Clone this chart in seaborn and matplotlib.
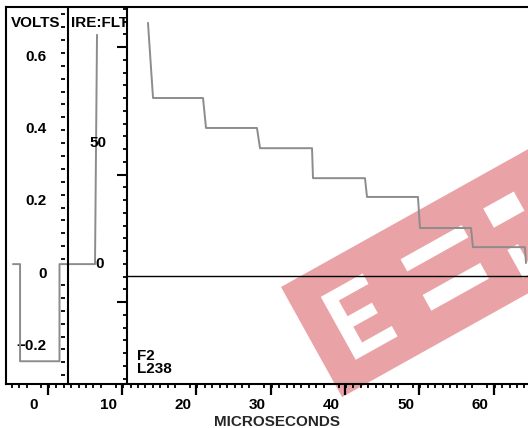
import numpy as np
import pandas as pd
import seaborn as sns
import matplotlib.pyplot as plt
from matplotlib.ticker import MultipleLocator
from matplotlib.path import Path
from matplotlib.patches import PathPatch

# trace (microseconds, volts)
sync_us = [-2.83, -1.88, -1.88, 3.43, 3.43, 8.21, 8.48]
sync_v = [0.022, 0.022, -0.247, -0.247, 0.022, 0.022, 0.657]
stair_us = [15.34, 16.02, 22.75, 23.15, 30.01, 30.42, 37.42, 37.55,
            44.55, 44.82, 51.68, 51.95, 58.82, 59.08, 66.08, 66.22]
stair_v = [0.690, 0.482, 0.482, 0.399, 0.399, 0.343, 0.343, 0.260,
           0.260, 0.208, 0.208, 0.122, 0.122, 0.069, 0.069, 0.025]

volt_ticks = [-0.2, 0.0, 0.2, 0.4, 0.6]
volt_text = ['\u22120.2', '0', '0.2', '0.4', '0.6']
time_ticks = [0, 10, 20, 30, 40, 50, 60]
ire_text = ['0', '50']
ire_text_us = [8.81, 8.61]
ire_text_v = [0.022, 0.357]

baseline_v = -0.011      # graticule reference line
ire_zero_v = -0.083      # volts at zero of the IRE:FLT scale
volts_per_ire = 0.00706
volts_per_5ire = 0.714 / 20
divider_us = [4.58, 12.52]
volt_scale_us = 4.17
long_tick_shift = 1.85

xlim = (-3.77, 66.49)
ylim = (-0.310, 0.734)


def frac(x):
	return (x - xlim[0]) / (xlim[1] - xlim[0])


def band_pt(s, t):
	# watermark band, in figure pixels
	x = 281 + 0.873 * s + 0.485 * t
	y = 287 - 0.487 * s + 0.874 * t
	return (x / 528, 1 - y / 428)


def box(s0, s1, t0, t1, hole=False):
	pts = [(s0, t0), (s1, t0), (s1, t1), (s0, t1)]
	if hole:
		pts = pts[::-1]
	verts = [band_pt(*p) for p in pts] + [(0, 0)]
	codes = [Path.MOVETO, Path.LINETO, Path.LINETO, Path.LINETO, Path.CLOSEPOLY]
	return verts, codes


def myplot():
	sns.set_style("ticks", {"axes.edgecolor": "black", "xtick.color": "black",
	                        "ytick.color": "black", "text.color": "black"})
	plt.rcParams['font.family'] = ['Liberation Sans', 'DejaVu Sans']
	plt.rcParams['font.weight'] = 'bold'

	fig = plt.figure(figsize=(5.28, 4.28), dpi=100)
	ax = fig.add_axes([6 / 528, 44 / 428, 522 / 528, 377 / 428])
	ax.set_facecolor('none')

	df = pd.DataFrame({
		'us': sync_us + stair_us,
		'v': sync_v + stair_v,
		'seg': ['sync'] * len(sync_us) + ['stair'] * len(stair_us),
	})
	sns.lineplot(data=df, x='us', y='v', units='seg', estimator=None, sort=False,
	             color='#8c8c8c', lw=1.4, ax=ax)

	ax.set_xlim(xlim)
	ax.set_ylim(ylim)
	ax.hlines(baseline_v, divider_us[1], xlim[1], color='black', lw=1)
	for d in divider_us:
		ax.axvline(d, color='black', lw=1.5)

	for s in ['left', 'top', 'bottom']:
		ax.spines[s].set_linewidth(1.5)
	ax.spines['right'].set_visible(False)

	# time axis
	ax.set_xticks(time_ticks)
	ax.xaxis.set_minor_locator(MultipleLocator(1))
	ax.tick_params(axis='x', which='major', bottom=True, length=0, pad=10, labelsize=11)
	ax.tick_params(axis='x', which='minor', bottom=True, length=3, width=1.3)
	ax.tick_params(axis='y', left=False, labelleft=False)
	ax.set_ylabel('')
	ax.set_xlabel('MICROSECONDS', fontsize=11, fontweight='bold')
	ax.xaxis.set_label_coords(0.519, -0.081)

	lx = ax.secondary_xaxis('bottom', functions=(lambda x: x - long_tick_shift,
	                                             lambda x: x + long_tick_shift))
	lx.xaxis.set_major_locator(MultipleLocator(10))
	lx.tick_params(which='major', bottom=True, length=8, width=1.6, labelbottom=False)
	lx.spines['bottom'].set_visible(False)

	# volts scale
	vx = ax.secondary_yaxis(frac(volt_scale_us), functions=(lambda v: v, lambda v: v))
	vx.set_yticks(volt_ticks, volt_text)
	vx.yaxis.set_minor_locator(MultipleLocator(volts_per_5ire))
	vx.tick_params(which='major', left=True, length=0, pad=13, labelsize=11)
	vx.tick_params(which='minor', left=True, length=2.6, width=1.3)
	for s in vx.spines.values():
		s.set_visible(False)

	# IRE:FLT scale
	ix = ax.secondary_yaxis(frac(divider_us[1]),
	                        functions=(lambda v: (v - ire_zero_v) / volts_per_ire,
	                                   lambda i: i * volts_per_ire + ire_zero_v))
	ix.yaxis.set_major_locator(MultipleLocator(50))
	ix.yaxis.set_minor_locator(MultipleLocator(5))
	ix.tick_params(which='major', left=True, length=7, width=1.5, labelleft=False)
	ix.tick_params(which='minor', left=True, length=3, width=1.3)
	for s in ix.spines.values():
		s.set_visible(False)

	for t, x, y in zip(ire_text, ire_text_us, ire_text_v):
		ax.text(x, y, t, ha='center', va='center', fontsize=11, fontweight='bold')

	ax.text(0.0565, 0.958, 'VOLTS', transform=ax.transAxes, ha='center', va='center', fontsize=11)
	ax.text(0.180, 0.958, 'IRE:FLT', transform=ax.transAxes, ha='center', va='center', fontsize=11)
	ax.text(0.251, 0.021, 'F2\nL238', transform=ax.transAxes, ha='left', va='bottom',
	        fontsize=11, linespacing=0.95)

	# watermark band behind the screen (holes must not overlap)
	verts, codes = box(0, 420, 0, 126)
	holes = [(30, 44, 28, 100), (44, 78, 28, 40), (44, 72, 58, 70), (44, 78, 88, 100),
	         (118, 188, 34, 48), (120, 186, 76, 94), (215, 250, 30, 52), (216, 228, 78, 110)]
	for h in holes:
		hv, hc = box(*h, hole=True)
		verts += hv
		codes += hc
	band = PathPatch(Path(verts, codes), transform=fig.transFigure,
	                 facecolor='#e9a3a6', edgecolor='none', zorder=-1)
	fig.add_artist(band)

	plt.savefig('out.png', dpi=100)


myplot()
